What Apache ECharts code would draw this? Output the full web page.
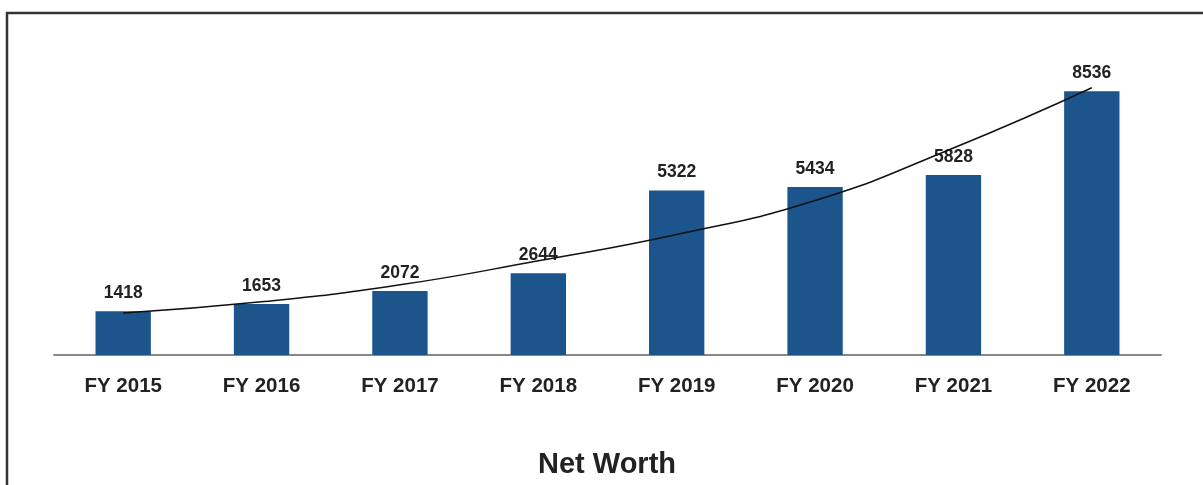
<!DOCTYPE html>
<html>
<head>
<meta charset="utf-8">
<script src="https://cdn.jsdelivr.net/npm/echarts@6/dist/echarts.min.js"></script>
<style>
html,body{margin:0;padding:0;background:#fff;}
#c{width:1203px;height:485px;}
</style>
</head>
<body>
<div id="c"></div>
<script>
const categories = ['FY 2015','FY 2016','FY 2017','FY 2018','FY 2019','FY 2020','FY 2021','FY 2022'];
const netWorth = [1418, 1653, 2072, 2644, 5322, 5434, 5828, 8536];
const trendLine = [1360, 1720, 2270, 3050, 3900, 5000, 6700, 8650];
const chartTitle = 'Net Worth';

const chart = echarts.init(document.getElementById('c'));
chart.setOption({
  animation: false,
  backgroundColor: '#fff',
  textStyle: { fontFamily: '"Liberation Sans", Arial, sans-serif' },
  title: {
    text: chartTitle,
    left: 533,
    top: 445,
    textStyle: { fontSize: 29, fontWeight: 'bold', color: '#222', fontFamily: '"Liberation Sans", Arial, sans-serif' }
  },
  graphic: [{
    type: 'rect',
    shape: { x: 7, y: 13, width: 1300, height: 600 },
    style: { fill: 'none', stroke: '#333', lineWidth: 2.5 },
    silent: true
  }],
  grid: { left: 54, right: 42, top: 46, bottom: 130 },
  xAxis: {
    type: 'category',
    data: categories,
    axisLine: { lineStyle: { color: '#888', width: 2 } },
    axisTick: { show: false },
    axisLabel: { color: '#222', fontSize: 20.5, fontWeight: 'bold', margin: 21 }
  },
  yAxis: {
    type: 'value', min: 0, max: 10000, show: false,
    splitLine: { show: false }
  },
  series: [{
    type: 'bar',
    data: netWorth,
    barWidth: '40%',
    itemStyle: { color: '#1b558c' },
    label: {
      show: true, position: 'top', distance: 9,
      color: '#222', fontSize: 17.5, fontWeight: 'bold'
    }
  }, {
    type: 'line',
    data: trendLine,
    smooth: true,
    symbol: 'none',
    lineStyle: { color: '#111', width: 1.5 },
    z: 5
  }]
});
</script>
</body>
</html>
